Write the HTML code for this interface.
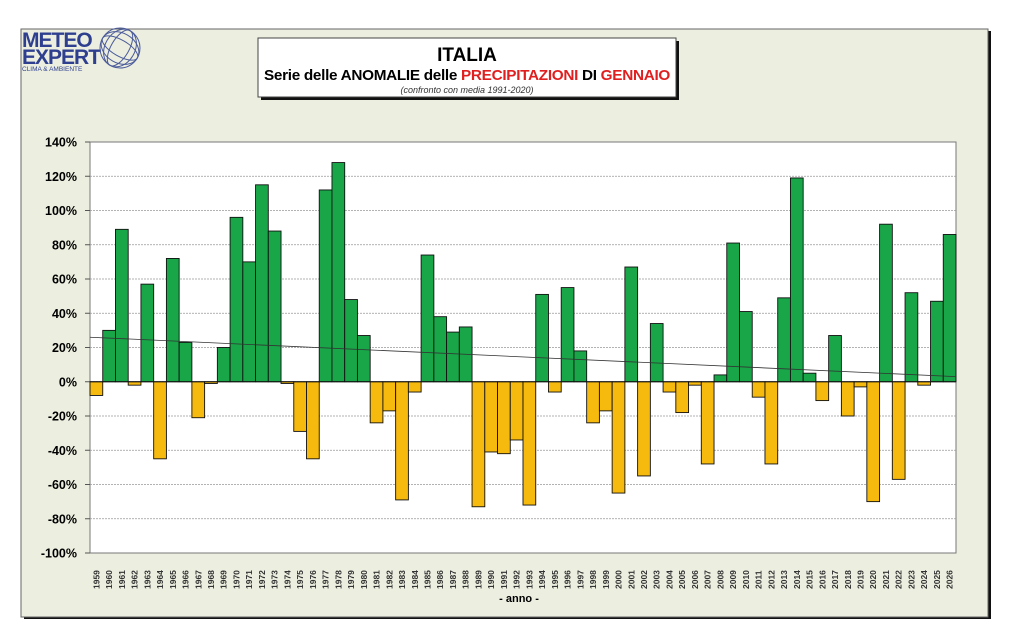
<!DOCTYPE html>
<html><head><meta charset="utf-8"><style>
body{margin:0;background:#fff;width:1024px;height:639px;overflow:hidden}
</style></head><body>
<svg width="1024" height="639" xmlns="http://www.w3.org/2000/svg" font-family="Liberation Sans, Arial, sans-serif">
<rect x="24" y="31" width="967" height="588" fill="#111"/>
<rect x="21" y="29" width="967" height="588" fill="#ecefe0" stroke="#666" stroke-width="1"/>
<!-- logo -->
<text x="22" y="47" font-size="21" font-weight="bold" fill="#2f3f8f" letter-spacing="-1">METEO</text>
<text x="22" y="64" font-size="21" font-weight="bold" fill="#2f3f8f" letter-spacing="-1">EXPERT</text>
<text x="22" y="71" font-size="6.5" fill="#2f3f8f">CLIMA &amp; AMBIENTE</text>
<g fill="none" stroke="#4a5a9a" stroke-width="1">
<circle cx="120" cy="48" r="20"/><ellipse cx="120" cy="48" rx="9" ry="20" transform="rotate(30 120 48)"/>
<ellipse cx="120" cy="48" rx="20" ry="8" transform="rotate(30 120 48)"/><ellipse cx="120" cy="48" rx="15" ry="20" transform="rotate(30 120 48)"/>
<ellipse cx="120" cy="48" rx="20" ry="15" transform="rotate(30 120 48)"/></g>
<!-- title -->
<rect x="261" y="41" width="418" height="59" fill="#111"/>
<rect x="258" y="38" width="418" height="59" fill="#fff" stroke="#444"/>
<text x="467" y="61" font-size="19" font-weight="bold" text-anchor="middle">ITALIA</text>
<text x="264" y="80" font-size="15" font-weight="bold" textLength="406" lengthAdjust="spacingAndGlyphs" letter-spacing="-0.3">Serie delle ANOMALIE delle <tspan fill="#e02020">PRECIPITAZIONI</tspan> DI <tspan fill="#e02020">GENNAIO</tspan></text>
<text x="467" y="93" font-size="9" font-style="italic" text-anchor="middle" fill="#333">(confronto  con media 1991-2020)</text>
<rect x="90" y="142" width="866" height="411" fill="#fff" stroke="#777"/>
<g id="g"></g>
<text x="519" y="602" font-size="11" font-weight="bold" text-anchor="middle">- anno -</text>
</svg>
<script>
var vals=[-8,30,89,-2,57,-45,72,23,-21,-1,20,96,70,115,88,-1,-29,-45,112,128,48,27,-24,-17,-69,-6,74,38,29,32,-73,-41,-42,-34,-72,51,-6,55,18,-24,-17,-65,67,-55,34,-6,-18,-2,-48,4,81,41,-9,-48,49,119,5,-11,27,-20,-3,-70,92,-57,52,-2,47,86];
var g=document.getElementById('g'),s='';
var L=90,W=866/68,Z=381.75,K=34.25/20;
for(var i=-100;i<=140;i+=20){var y=Z-i*K;
 if(i>-100&&i<140)s+='<line x1="90" x2="956" y1="'+y+'" y2="'+y+'" stroke="#999" stroke-dasharray="2,1" stroke-width="0.8"/>';
 s+='<line x1="85" x2="90" y1="'+y+'" y2="'+y+'" stroke="#555"/>';
 s+='<text x="77" y="'+(y+4.5)+'" font-size="12.5" font-weight="bold" text-anchor="end">'+i+'%</text>';}
for(var j=0;j<68;j++){var v=vals[j],x=L+j*W,y=v>=0?Z-v*K:Z,h=Math.abs(v)*K;
 s+='<rect x="'+x+'" y="'+y+'" width="'+W+'" height="'+h+'" fill="'+(v>=0?'#18a648':'#f6b90e')+'" stroke="#111" stroke-width="0.9"/>';
 var cx=x+W/2+3;s+='<text transform="translate('+cx+',589) rotate(-90)" font-size="8.5" font-weight="bold" fill="#333">'+(1959+j)+'</text>';}
s+='<line x1="90" y1="'+(Z-26*K)+'" x2="956" y2="'+(Z-3*K)+'" stroke="#333" stroke-width="0.8"/>';
s+='<line x1="90" x2="956" y1="'+Z+'" y2="'+Z+'" stroke="#111"/>';
g.innerHTML=s;
</script>
</body></html>
